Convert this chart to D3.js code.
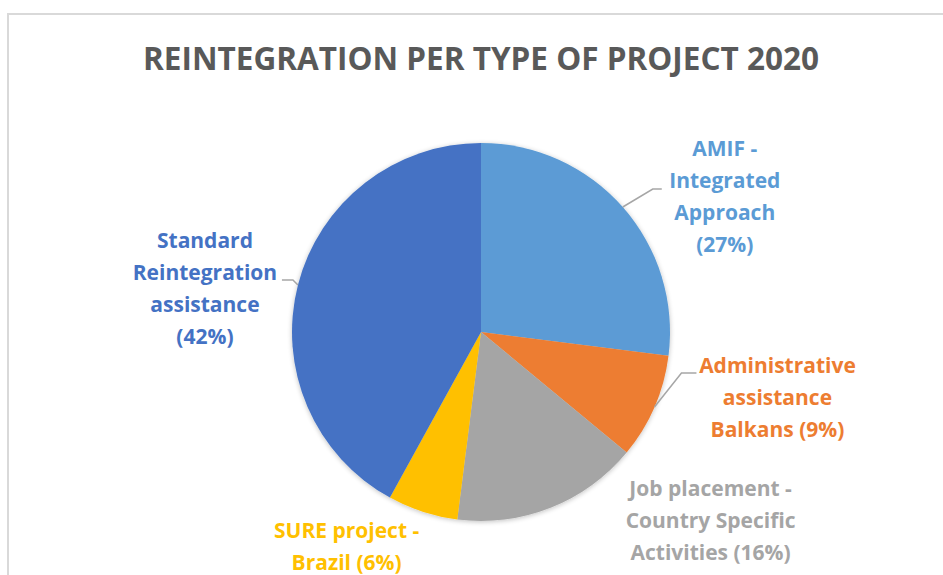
<!DOCTYPE html>
<html>
<head>
<meta charset="utf-8">
<script src="https://cdn.jsdelivr.net/npm/d3@7"></script>
<style>
  body { margin: 0; background: #fff; }
  text { font-family: "Open Sans", "DejaVu Sans", sans-serif; font-weight: 700; }
</style>
</head>
<body>
<div id="chart"></div>
<script>
// data
const categories = [
  "AMIF - Integrated Approach",
  "Administrative assistance Balkans",
  "Job placement - Country Specific Activities",
  "SURE project - Brazil",
  "Standard Reintegration assistance"
];
const values = [27, 9, 16, 6, 42];
const labelLines = [
  ["AMIF -", "Integrated", "Approach", "(27%)"],
  ["Administrative", "assistance", "Balkans (9%)"],
  ["Job placement -", "Country Specific", "Activities (16%)"],
  ["SURE project -", "Brazil  (6%)"],
  ["Standard", "Reintegration", "assistance", "(42%)"]
];
const colors = ["#5b9bd5", "#ed7d31", "#a5a5a5", "#ffc000", "#4472c4"];

// label placement relative to the slice edge point (like Excel's manual label layout)
const labelLayout = [
  { dx: 102, dy: -10, leader: [[30, -18], [39, -18]] },
  { dx: 123, dy: -9, leader: [[27, -34], [42, -34]] },
  { dx: 160, dy: 13, leader: null },
  { dx: -76, dy: 35, leader: null },
  { dx: -93, dy: 4, leader: [[-5, -5], [-16, -5]] }
];

const width = 943, height = 575;
const cx = 481, cy = 332, radius = 189;
const lineHeight = 32;

const svg = d3.select("#chart").append("svg")
  .attr("width", width)
  .attr("height", height);

// chart area border
svg.append("rect")
  .attr("x", 8).attr("y", 14)
  .attr("width", width + 20).attr("height", height + 20)
  .attr("fill", "#fff")
  .attr("stroke", "#d9d9d9")
  .attr("stroke-width", 2);

svg.append("text")
  .attr("x", cx)
  .attr("y", 70)
  .attr("text-anchor", "middle")
  .attr("fill", "#595959")
  .style("font-size", "31.5px")
  .text("REINTEGRATION PER TYPE OF PROJECT 2020");

const defs = svg.append("defs");
const shadow = defs.append("filter").attr("id", "shadow")
  .attr("x", "-10%").attr("y", "-10%").attr("width", "120%").attr("height", "120%");
shadow.append("feGaussianBlur").attr("in", "SourceAlpha").attr("stdDeviation", 2.5);
shadow.append("feOffset").attr("dx", 0).attr("dy", 1).attr("result", "blur");
shadow.append("feComponentTransfer").append("feFuncA").attr("type", "linear").attr("slope", 0.25);
const merge = shadow.append("feMerge");
merge.append("feMergeNode");
merge.append("feMergeNode").attr("in", "SourceGraphic");

const pie = d3.pie().sort(null).value(d => d);
const arcs = pie(values);
const arc = d3.arc().innerRadius(0).outerRadius(radius);

const g = svg.append("g").attr("transform", `translate(${cx},${cy})`);

g.append("g").attr("filter", "url(#shadow)")
  .selectAll("path")
  .data(arcs)
  .enter()
  .append("path")
  .attr("d", arc)
  .attr("fill", (d, i) => colors[i]);

// point on the pie edge at the middle of each slice
const edgePoint = d => {
  const a = (d.startAngle + d.endAngle) / 2;
  return [radius * Math.sin(a), -radius * Math.cos(a)];
};

// leader lines
g.selectAll("polyline.leader")
  .data(arcs.filter((d, i) => labelLayout[i].leader))
  .enter()
  .append("polyline")
  .attr("class", "leader")
  .attr("fill", "none")
  .attr("stroke", "#a6a6a6")
  .attr("stroke-width", 1.5)
  .attr("points", d => {
    const p = edgePoint(d);
    const L = labelLayout[d.index].leader;
    return [p, [p[0] + L[0][0], p[1] + L[0][1]], [p[0] + L[1][0], p[1] + L[1][1]]]
      .map(q => q.join(",")).join(" ");
  });

// data labels
const labels = g.selectAll("text.label")
  .data(arcs)
  .enter()
  .append("text")
  .attr("class", "label")
  .attr("text-anchor", "middle")
  .attr("fill", (d, i) => colors[i])
  .style("font-size", "21px")
  .attr("transform", d => {
    const p = edgePoint(d);
    const L = labelLayout[d.index];
    return `translate(${p[0] + L.dx},${p[1] + L.dy})`;
  });

labels.each(function(d) {
  const lines = labelLines[d.index];
  const top = -(lines.length - 1) * lineHeight / 2;
  d3.select(this).selectAll("tspan")
    .data(lines)
    .enter()
    .append("tspan")
    .attr("x", 0)
    .attr("y", (t, j) => top + j * lineHeight)
    .attr("dy", "0.35em")
    .text(t => t);
});
</script>
</body>
</html>
